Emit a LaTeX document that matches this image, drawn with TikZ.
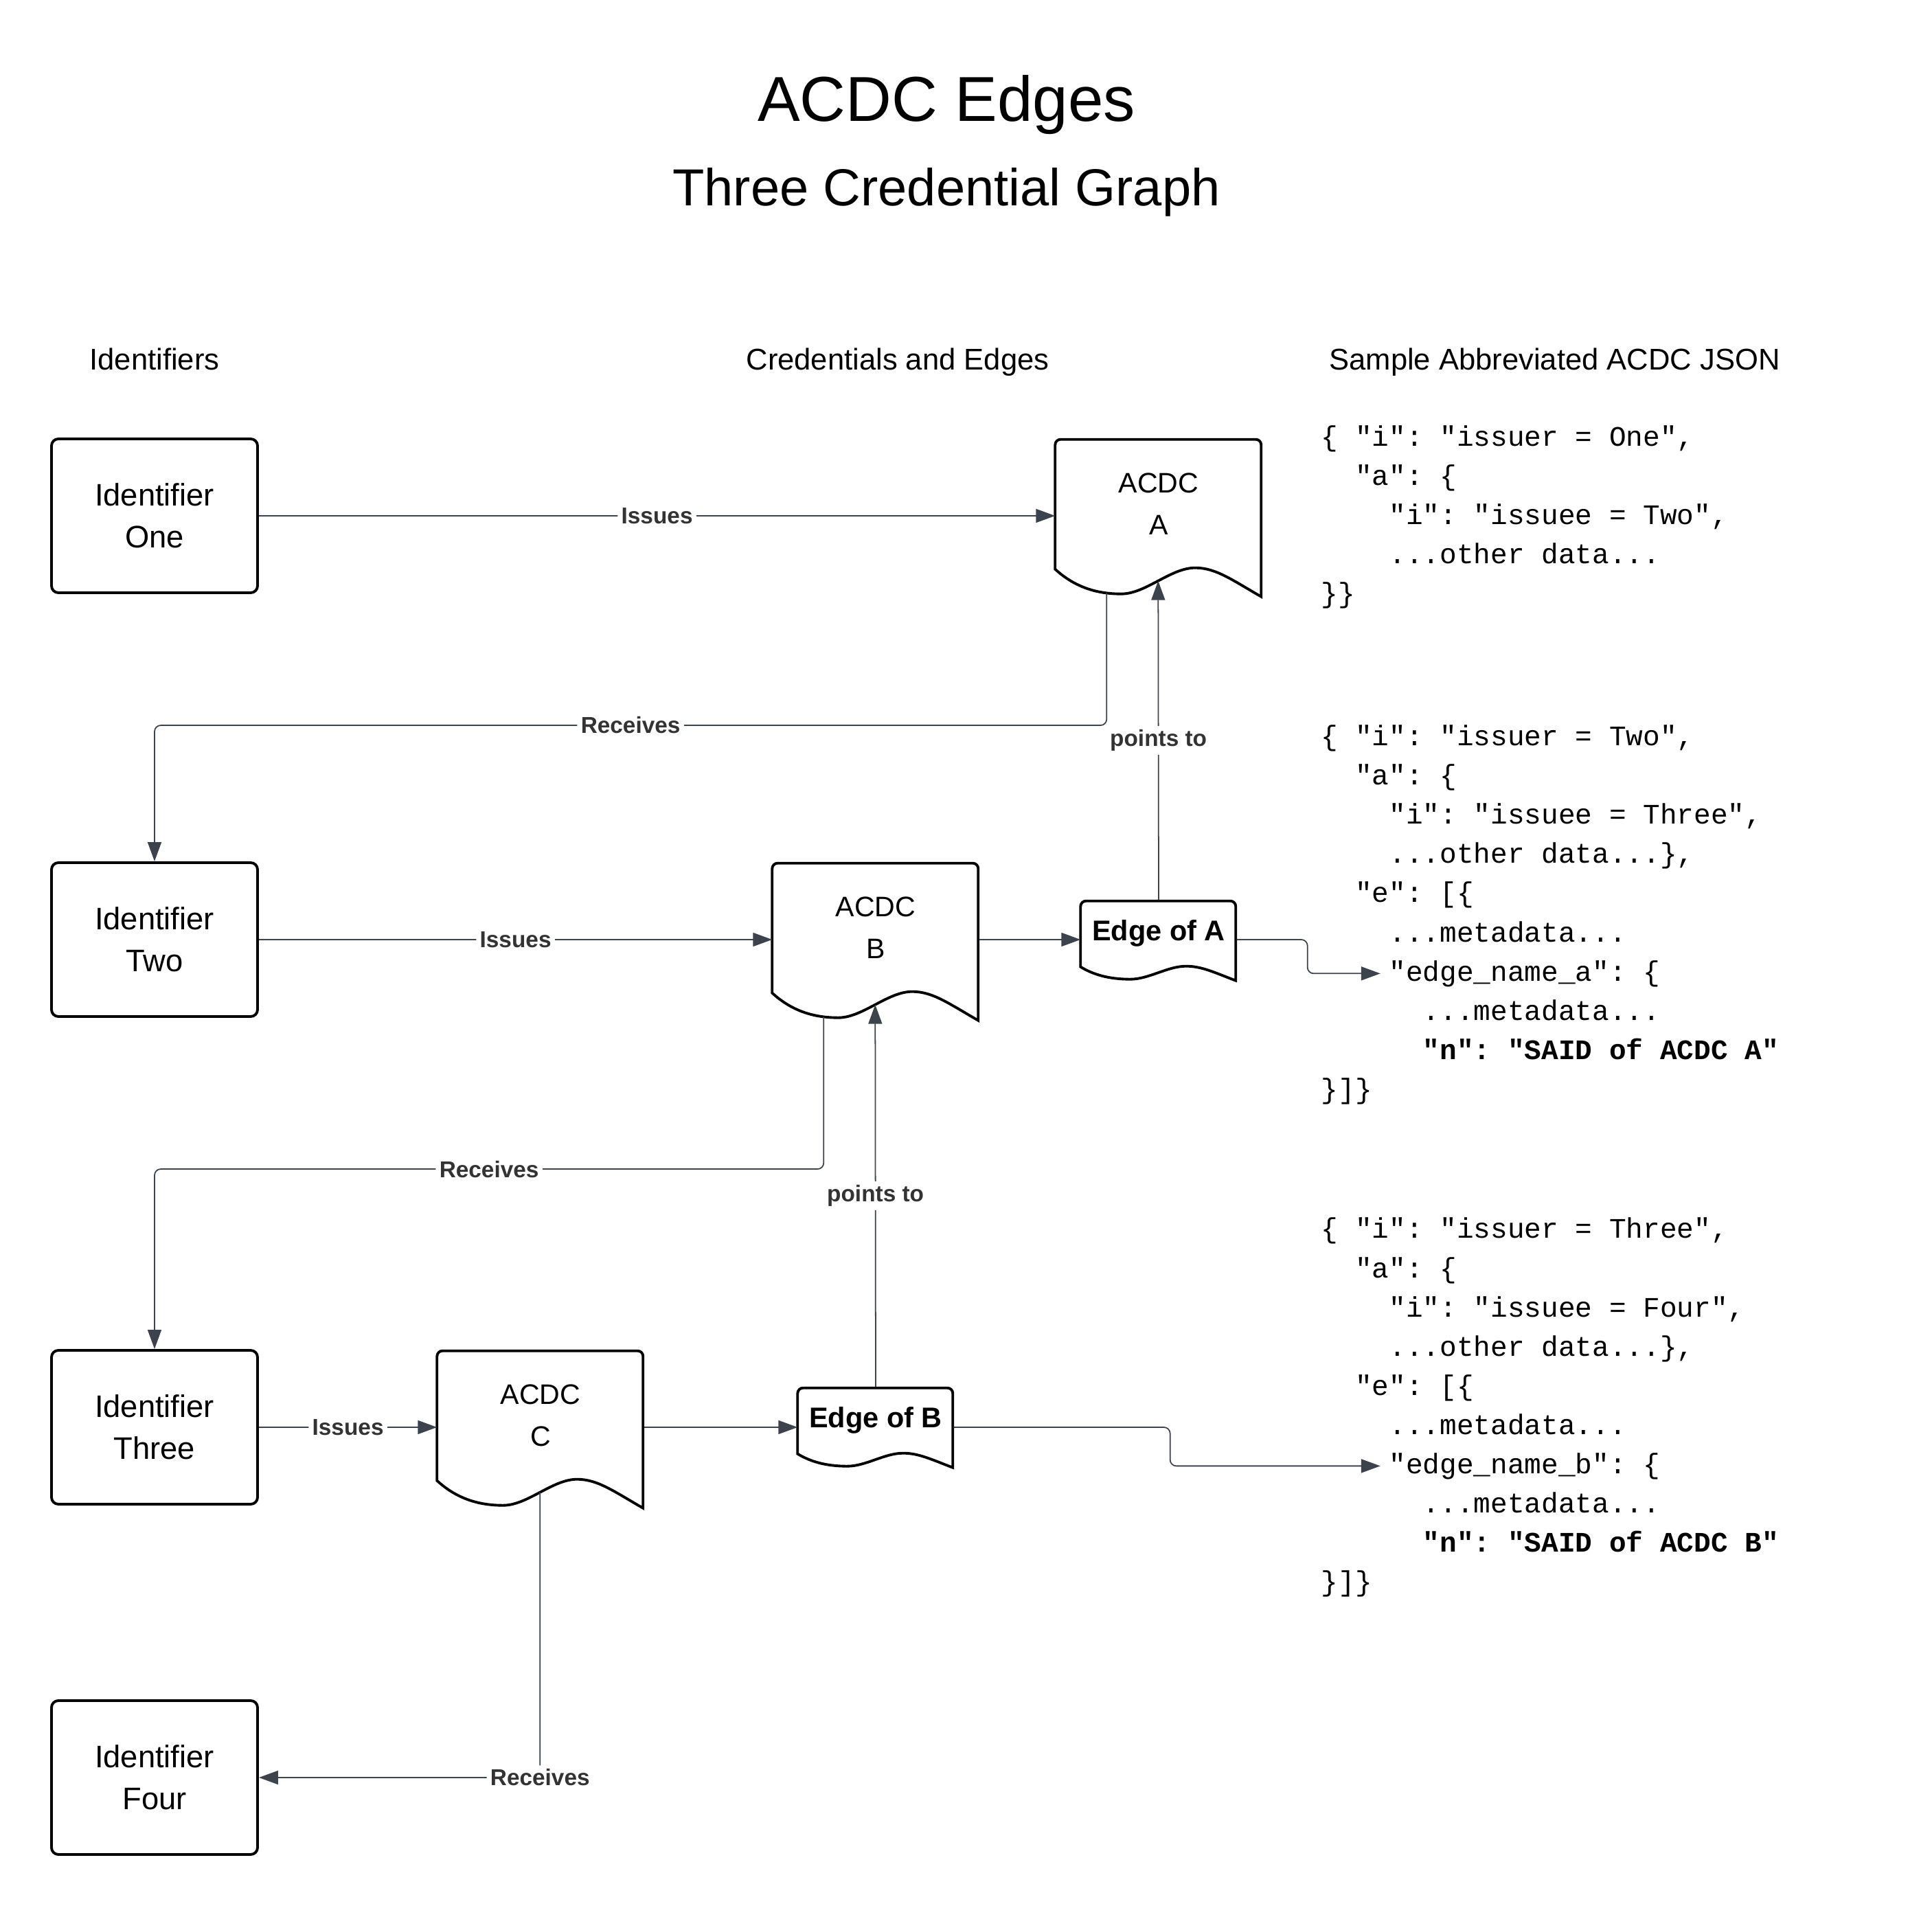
\documentclass[tikz,border=0pt]{standalone}
\usepackage{fontspec}
\setmainfont{Liberation Sans}
\setmonofont{Liberation Mono}
\usetikzlibrary{arrows.meta,calc}

\definecolor{linegray}{HTML}{3D434D}
\definecolor{labelgray}{HTML}{333333}

\tikzset{
  idbox/.style = {rectangle, draw=black, line width=1.1pt, rounded corners=0.1cm,
                  minimum width=3cm, minimum height=2.24cm, align=center,
                  font=\fontsize{12.9}{17.4}\selectfont},
  docbox/.style = {rectangle, minimum width=3cm, minimum height=1.89cm,
                   inner sep=0pt, align=center, font=\fontsize{11.7}{17.4}\selectfont},
  edgebox/.style = {rectangle, minimum width=2.26cm, minimum height=0.96cm,
                    inner sep=0pt, font=\bfseries\fontsize{11.8}{14}\selectfont},
  docline/.style = {draw=black, line width=1.1pt},
  link/.style = {draw=linegray, line width=0.5pt, rounded corners=0.09cm,
                 -{Triangle[length=0.28cm, width=0.2cm]}},
  lbl/.style = {fill=white, text=labelgray, inner sep=1.5pt,
                font=\bfseries\fontsize{9.5}{11}\selectfont},
  json/.style = {anchor=base west, inner sep=0pt,
                 font=\ttfamily\fontsize{11.7}{14}\selectfont},
  head/.style = {anchor=base, font=\fontsize{12.4}{15}\selectfont}
}

% document outline round a node: #1 node, #2 width, #3 height, #4 wave depth
\newcommand{\docshape}[4]{
  \begin{scope}[shift={(#1.south west)}]
    \draw[docline] (0,0) -- (0,{#3-0.08}) arc[start angle=180, end angle=90, radius=0.08]
      -- ({#2-0.08},#3) arc[start angle=90, end angle=0, radius=0.08]
      -- (#2,{-#4})
      .. controls ({0.86*#2},{-0.4*#4}) and ({0.78*#2},{0.05*#4}) .. ({0.68*#2},{0.05*#4})
      .. controls ({0.56*#2},{0.05*#4}) and ({0.44*#2},{-0.9*#4}) .. ({0.32*#2},{-0.9*#4})
      .. controls ({0.18*#2},{-0.9*#4}) and ({0.08*#2},{-0.55*#4}) .. (0,0) -- cycle;
    \coordinate (#1-mid) at ({0.5*#2},{-0.425*#4});
    \coordinate (#1-foot) at ({0.25*#2},{-0.87*#4});
  \end{scope}
}

\begin{document}
\begin{tikzpicture}
	\def \lh{0.57}   % json line height
	\def \cw{0.247}  % json char width
	\def \jx{19.23}  % json left edge

	\useasboundingbox (0,0) rectangle (28.13,-27.75);

	% Titles
	\node[anchor=base, font=\fontsize{26.3}{30}\selectfont] (title) at (13.78,-1.765) {ACDC Edges};
	\node[anchor=base, font=\fontsize{21.6}{26}\selectfont] (subtitle) at (13.78,-3.00) {Three Credential Graph};

	% Column heads
	\node[head] (hId) at (2.25,-5.39) {Identifiers};
	\node[head] (hCred) at (13.07,-5.39) {Credentials and Edges};
	\node[head, anchor=base west] (hJson) at (\jx,-5.39) {Sample Abbreviated ACDC JSON};

	% Identifiers
	\node[idbox] (one) at (2.25,-7.51) {Identifier\\One};
	\node[idbox] (two) at (2.25,-13.68) {Identifier\\Two};
	\node[idbox] (three) at (2.25,-20.78) {Identifier\\Three};
	\node[idbox] (four) at (2.25,-25.88) {Identifier\\Four};

	% Credentials
	\node[docbox] (acdcA) at (16.87,-7.335) {ACDC\\A};
	\node[docbox] (acdcB) at (12.75,-13.505) {ACDC\\B};
	\node[docbox] (acdcC) at (7.87,-20.605) {ACDC\\C};
	\docshape{acdcA}{3}{1.89}{0.40}
	\docshape{acdcB}{3}{1.89}{0.40}
	\docshape{acdcC}{3}{1.89}{0.40}

	% Edges
	\node[edgebox] (edgeA) at (16.87,-13.59) {Edge of A};
	\node[edgebox] (edgeB) at (12.75,-20.68) {Edge of B};
	\docshape{edgeA}{2.26}{0.96}{0.20}
	\docshape{edgeB}{2.26}{0.96}{0.20}

	% JSON of ACDC A
	\node[json] (jA0) at (\jx,-6.50) {\{ "i": "issuer = One",};
	\node[json] (jA1) at (\jx+2*\cw,-6.50-1*\lh) {"a": \{};
	\node[json] (jA2) at (\jx+4*\cw,-6.50-2*\lh) {"i": "issuee = Two",};
	\node[json] (jA3) at (\jx+4*\cw,-6.50-3*\lh) {...other data...};
	\node[json] (jA4) at (\jx,-6.50-4*\lh) {\}\}};

	% JSON of ACDC B
	\node[json] (jB0) at (\jx,-10.86) {\{ "i": "issuer = Two",};
	\node[json] (jB1) at (\jx+2*\cw,-10.86-1*\lh) {"a": \{};
	\node[json] (jB2) at (\jx+4*\cw,-10.86-2*\lh) {"i": "issuee = Three",};
	\node[json] (jB3) at (\jx+4*\cw,-10.86-3*\lh) {...other data...\},};
	\node[json] (jB4) at (\jx+2*\cw,-10.86-4*\lh) {"e": [\{};
	\node[json] (jB5) at (\jx+4*\cw,-10.86-5*\lh) {...metadata...};
	\node[json] (jB6) at (\jx+4*\cw,-10.86-6*\lh) {"edge\_name\_a": \{};
	\node[json] (jB7) at (\jx+6*\cw,-10.86-7*\lh) {...metadata...};
	\node[json] (jB8) at (\jx+6*\cw,-10.86-8*\lh) {\textbf{"n": "SAID of ACDC A"}};
	\node[json] (jB9) at (\jx,-10.86-9*\lh) {\}]\}};

	% JSON of ACDC C
	\node[json] (jC0) at (\jx,-18.03) {\{ "i": "issuer = Three",};
	\node[json] (jC1) at (\jx+2*\cw,-18.03-1*\lh) {"a": \{};
	\node[json] (jC2) at (\jx+4*\cw,-18.03-2*\lh) {"i": "issuee = Four",};
	\node[json] (jC3) at (\jx+4*\cw,-18.03-3*\lh) {...other data...\},};
	\node[json] (jC4) at (\jx+2*\cw,-18.03-4*\lh) {"e": [\{};
	\node[json] (jC5) at (\jx+4*\cw,-18.03-5*\lh) {...metadata...};
	\node[json] (jC6) at (\jx+4*\cw,-18.03-6*\lh) {"edge\_name\_b": \{};
	\node[json] (jC7) at (\jx+6*\cw,-18.03-7*\lh) {...metadata...};
	\node[json] (jC8) at (\jx+6*\cw,-18.03-8*\lh) {\textbf{"n": "SAID of ACDC B"}};
	\node[json] (jC9) at (\jx,-18.03-9*\lh) {\}]\}};

	% Issues
	\draw[link] (one.east) -- (one.east -| acdcA.west) node[lbl, midway] {Issues};
	\draw[link] (two.east) -- (two.east -| acdcB.west) node[lbl, midway] {Issues};
	\draw[link] (three.east) -- (three.east -| acdcC.west) node[lbl, midway] {Issues};

	% Receives
	\draw[link] (acdcA-foot) |- ([yshift=1.98cm]two.north) node[lbl, pos=0.75] {Receives} -- (two.north);
	\draw[link] (acdcB-foot) |- ([yshift=2.62cm]three.north) node[lbl, pos=0.75] {Receives} -- (three.north);
	\draw[link] (acdcC-mid) |- (four.east) node[lbl, pos=0.5] {Receives};

	% Credential to edge
	\draw[link] (acdcB.east |- two) -- (edgeA.west |- two);
	\draw[link] (acdcC.east |- three) -- (edgeB.west |- three);

	% Points to
	\draw[link] (edgeA.north) -- (acdcA-mid) node[lbl, midway] {points to};
	\draw[link] (edgeB.north) -- (acdcB-mid) node[lbl, midway] {points to};

	% Edge to json
	\draw[link, shorten >=0.12cm] (edgeA.east |- two) -- ++(1.03,0) |- (jB6.west);
	\draw[link, shorten >=0.12cm] (edgeB.east |- three) -- ++(3.15,0) |- (jC6.west);

\end{tikzpicture}
\end{document}
